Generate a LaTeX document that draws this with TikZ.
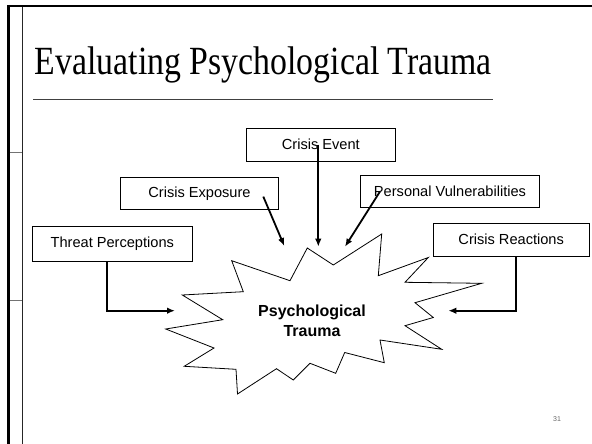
\documentclass[tikz,border=0pt]{standalone}
\usepackage{graphicx}
\usepackage{fontspec}
\setmainfont{Liberation Sans}
\newfontfamily\titlefont{Liberation Serif}
\usetikzlibrary{arrows.meta}

\tikzset{
  factor/.style={draw, line width=0.8, inner sep=0, font=\fontsize{14.6}{17}\selectfont},
  thickarrow/.style={line width=1.8, -{Latex[length=8,width=6.5]}},
}

\begin{document}
\begin{tikzpicture}[x=1pt,y=1pt,yscale=-1]
\useasboundingbox (0,0) rectangle (592,444);

%Slide frame
\draw [line width=2.3] (7,6.2) -- (592,6.2) ;
\draw [line width=2.7] (8.7,5) -- (8.7,444) ;
\draw [line width=0.8, black!85] (22,7) -- (22,444) ;
\draw [line width=1, black!55] (10,152.7) -- (21.6,152.7) ;
\draw [line width=1, black!55] (10,300.7) -- (21.6,300.7) ;

% Title
\node (title) [anchor=base, inner sep=0] at (263.3,75) {\titlefont\fontsize{40}{48}\selectfont\scalebox{0.845}[1]{Evaluating Psychological Trauma}};
%Straight Lines
\draw [line width=0.9, black!75] (33.3,99) -- (493.3,99) ;

%Shape: Starburst
\draw [line width=0.8, fill=white] (231.7,260.7) -- (290,280.7) -- (307.3,248) -- (333.3,265) -- (381.7,234) -- (378.3,275.7) -- (428.3,257.5) -- (405,282.3) -- (481.7,283.3) -- (415,302.7) -- (433.3,317.5) -- (405,325.7) -- (441.7,349.3) -- (380,340) -- (384.3,362.7) -- (344.7,352.5) -- (335.7,373.3) -- (310,363.3) -- (293.3,380) -- (276.5,368.7) -- (237.5,394) -- (236,369.3) -- (184.2,366.3) -- (214,348) -- (165.7,329) -- (222.7,319.7) -- (182.3,295) -- (243.3,291.7) -- cycle ;

% Text Node
\node (trauma) [align=center, inner sep=0, font=\bfseries\fontsize{16}{19.5}\selectfont] at (312,321) {Psychological\\Trauma};

% Text Node
\node (threat) [factor, minimum width=160, minimum height=35.7] at (112.3,243.8) {Threat Perceptions};
% Text Node
\node (exposure) [factor, minimum width=157.6, minimum height=32] at (199.5,193.3) {Crisis Exposure};
% Text Node
\node (event) [factor, minimum width=148.3, minimum height=32.7] at (320.8,144.7) {Crisis Event};
% Text Node
\node (vulner) [factor, minimum width=178.6, minimum height=31.6] at (450,191.5) {Personal Vulnerabilities};
% Text Node
\node (reactions) [factor, minimum width=155.7, minimum height=32.7] at (511.2,239.7) {Crisis Reactions};

%Arrow ends on the starburst
\coordinate (threat end) at (175,310.7);
\coordinate (exposure end) at (284.3,246);
\coordinate (event end) at (318.3,246.7);
\coordinate (vulner end) at (345,246.7);
\coordinate (reactions end) at (448.3,310.7);

%Arrows
\draw [thickarrow] ([xshift=-5.6]threat.south) |- (threat end) ;
\draw [thickarrow] ([xshift=63.8,yshift=3.3]exposure.center) -- (exposure end) ;
\draw [thickarrow] ([xshift=-2.5]event.center) -- (event end) ;
\draw [thickarrow] ([xshift=-70]vulner.center) -- (vulner end) ;
\draw [thickarrow] ([xshift=4.8]reactions.south) |- (reactions end) ;

% Page number
\node (pagenum) [text=black!60, font=\fontsize{7}{8}\selectfont] at (557,418.7) {31};

\end{tikzpicture}
\end{document}
